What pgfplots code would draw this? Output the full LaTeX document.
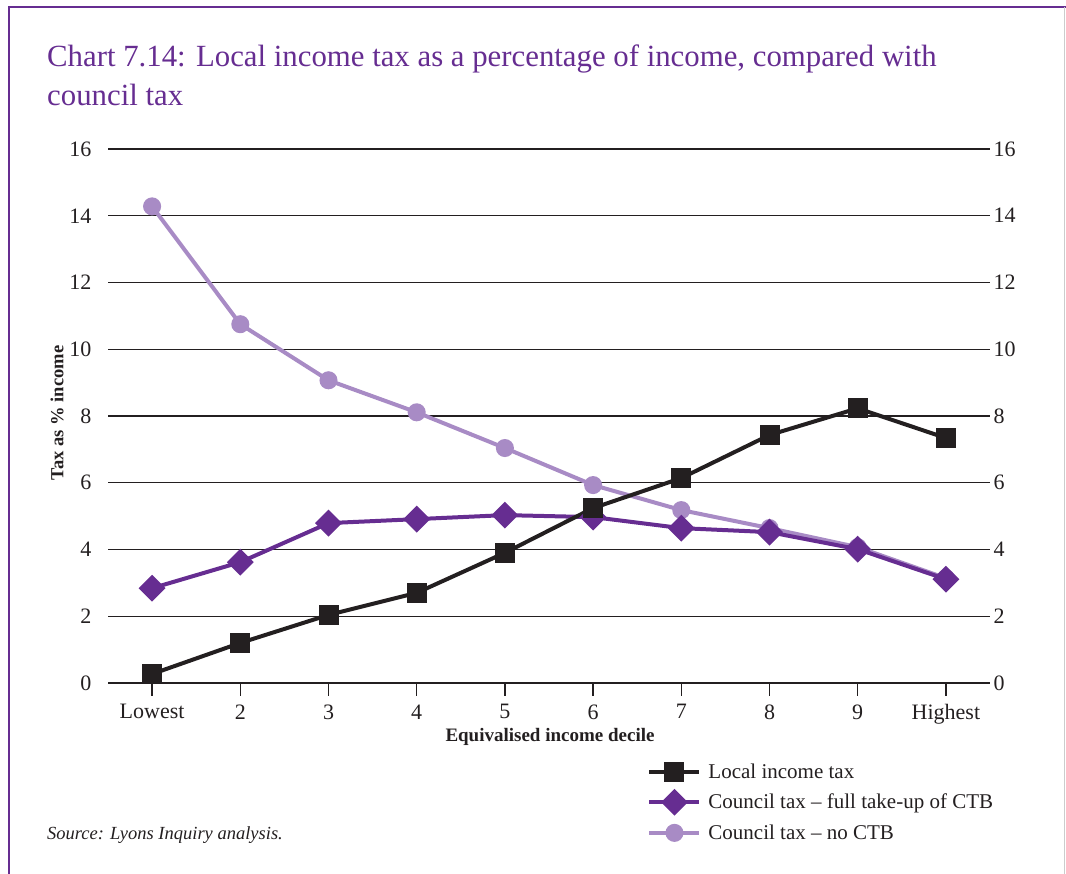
\documentclass[border=0pt]{standalone}
\usepackage{pgfplots}
\pgfplotsset{compat=1.18}
\usepackage{fontspec}
\setmainfont{Liberation Serif}
\definecolor{ink}{HTML}{231F20}
\definecolor{cpurple}{HTML}{662D91}
\definecolor{clight}{HTML}{A88BC5}
\begin{document}
\begin{tikzpicture}
\useasboundingbox (0,0) rectangle (1066pt,874pt);
\draw[cpurple, line width=1.5pt] (9pt,0) -- (9pt,867pt) -- (1066pt,867pt);
\draw[black!20, line width=1pt] (1064pt,0) -- (1064pt,867pt);
\node[anchor=base west, text=cpurple, font=\fontsize{30.8}{37}\selectfont, inner sep=0pt] at (47pt,807pt) {Chart 7.14: Local income tax as a percentage of income, compared with};
\node[anchor=base west, text=cpurple, font=\fontsize{30.8}{37}\selectfont, inner sep=0pt] at (47pt,768pt) {council tax};
\node[rotate=90, font=\bfseries\fontsize{18.5}{22}\selectfont, text=ink] at (57pt,461pt) {Tax as \% income};
\node[font=\bfseries\fontsize{19}{22}\selectfont, text=ink] at (550pt,137pt) {Equivalised income decile};
\node[anchor=base west, font=\itshape\fontsize{18.5}{22}\selectfont, text=ink, inner sep=0pt] at (47pt,34pt) {Source: Lyons Inquiry analysis.};
\begin{axis}[
  at={(108pt,191pt)}, anchor=south west,
  scale only axis, width=882pt, height=534pt,
  xmin=0.5, xmax=10.5, ymin=0, ymax=16,
  axis line style={draw=none},
  xtick={1,...,10},
  xticklabels={Lowest,2,3,4,5,6,7,8,9,Highest},
  ytick={0,2,...,16},
  xtick pos=bottom, ytick pos=left,
  tick align=outside,
  major x tick style={ink, line width=1.3pt},
  major tick length=13pt,
  major y tick style={draw=none},
  ymajorgrids,
  grid style={ink, line width=1.2pt},
  tick label style={font=\fontsize{22}{26}\selectfont, text=ink},
  /pgf/number format/assume math mode=true,
  xticklabel style={yshift=-5pt},
  clip=false,
  reverse legend,
  legend cell align=left,
  legend style={at={(0.608,-0.143)}, anchor=north west, draw=none, fill=none,
    font=\fontsize{21}{25}\selectfont, /tikz/row sep=10pt, text=ink},
  legend image code/.code={\draw[mark repeat=2,mark phase=2,#1] plot coordinates {(0pt,0pt) (25pt,0pt) (50pt,0pt)}; \path (55pt,0pt);},
]
\draw[ink, line width=2.5pt] (rel axis cs:0,0) -- (rel axis cs:1,0);
\addplot[clight, line width=4pt, mark=*, mark size=7pt, mark options={solid}] coordinates {
(1,14.28)(2,10.75)(3,9.07)(4,8.11)(5,7.04)(6,5.93)(7,5.18)(8,4.64)(9,4.07)(10,3.14)};
\addlegendentry{Council tax -- no CTB}
\addplot[cpurple, line width=4pt, mark=square*, mark size=7.5pt, mark options={solid, rotate=45}] coordinates {
(1,2.84)(2,3.62)(3,4.79)(4,4.91)(5,5.03)(6,4.97)(7,4.64)(8,4.52)(9,4.01)(10,3.11)};
\addlegendentry{Council tax -- full take-up of CTB}
\addplot[ink, line width=4pt, mark=square*, mark size=8pt, mark options={solid}] coordinates {
(1,0.27)(2,1.2)(3,2.04)(4,2.7)(5,3.9)(6,5.24)(7,6.14)(8,7.43)(9,8.23)(10,7.34)};
\addlegendentry{Local income tax}
\end{axis}
\begin{axis}[
  at={(108pt,191pt)}, anchor=south west,
  scale only axis, width=882pt, height=534pt,
  xmin=0.5, xmax=10.5, ymin=0, ymax=16,
  axis line style={draw=none},
  xtick=\empty,
  ytick={0,2,...,16},
  ytick pos=right, yticklabel pos=right,
  major y tick style={draw=none},
  tick label style={font=\fontsize{22}{26}\selectfont, text=ink},
  /pgf/number format/assume math mode=true,
]
\end{axis}
\end{tikzpicture}
\end{document}
